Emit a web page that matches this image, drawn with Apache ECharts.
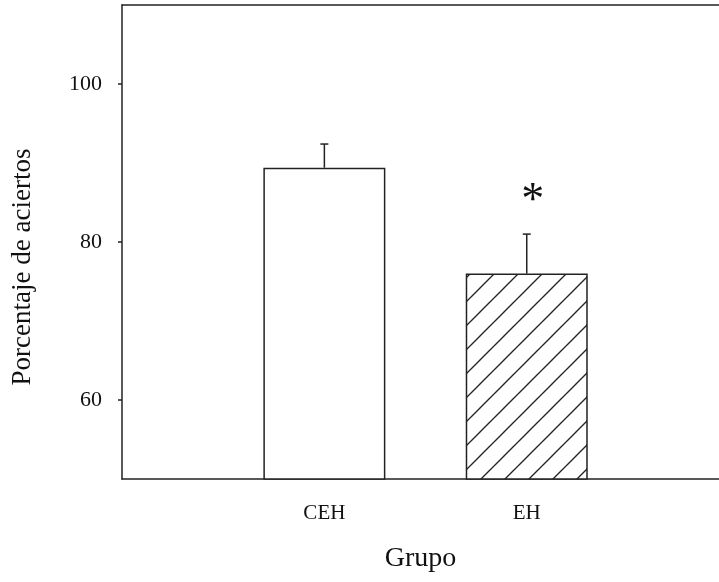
<!DOCTYPE html>
<html>
<head>
<meta charset="utf-8">
<script src="https://cdn.jsdelivr.net/npm/echarts@6/dist/echarts.min.js"></script>
<style>
html,body{margin:0;padding:0;background:#fff;}
#chart{width:719px;height:582px;}
</style>
</head>
<body>
<div id="chart"></div>
<script>
const categories = ['CEH', 'EH'];
const xPositions = [1, 2];
const means = [89.4, 76.0];
const upperErr = [92.4, 81.0];
const significance = ['', '*'];
const yTickValues = [60, 80, 100];

const ink = '#111';
const font = '"Liberation Serif", "DejaVu Serif", serif';

// hatch pattern
const pc = document.createElement('canvas');
pc.width = 24; pc.height = 24;
const g = pc.getContext('2d');
g.fillStyle = '#fff'; g.fillRect(0, 0, 24, 24);
g.strokeStyle = '#222'; g.lineWidth = 1.3;
[-24, 0, 24].forEach(o => {
  g.beginPath(); g.moveTo(o - 2, 26); g.lineTo(o + 26, -2); g.stroke();
});

const barData = xPositions.map((x, i) => ({
  value: [x, means[i]],
  itemStyle: { color: i === 0 ? '#fff' : { image: pc, repeat: 'repeat' } }
}));
const errData = xPositions.map((x, i) => [x, upperErr[i], means[i], significance[i]]);

const axisLineStyle = { color: '#222', width: 1.5 };

const chart = echarts.init(document.getElementById('chart'), null, { renderer: 'canvas' });
chart.setOption({
  animation: false,
  backgroundColor: '#fff',
  grid: { left: 122, right: 0, top: 5, bottom: 103 },
  xAxis: [{
    type: 'value', min: 0, max: 2.95,
    name: 'Grupo', nameLocation: 'middle', nameGap: 66,
    nameTextStyle: { fontFamily: font, fontSize: 28, color: ink },
    axisLine: { show: true, lineStyle: axisLineStyle },
    axisTick: { show: false },
    splitLine: { show: false },
    axisLabel: {
      customValues: xPositions,
      formatter: v => categories[xPositions.indexOf(v)] || '',
      fontFamily: font, fontSize: 21, color: ink, margin: 24
    }
  }, {
    type: 'value', position: 'top', min: 0, max: 2.95,
    axisLine: { show: true, lineStyle: axisLineStyle },
    axisTick: { show: false }, axisLabel: { show: false }, splitLine: { show: false }
  }],
  yAxis: {
    type: 'value', min: 50, max: 110, interval: 10,
    name: 'Porcentaje de aciertos', nameLocation: 'middle', nameGap: 86, nameRotate: 90,
    nameTextStyle: { fontFamily: font, fontSize: 27, color: ink, padding: [0, 50, 0, 0] },
    axisLine: { show: true, lineStyle: axisLineStyle },
    axisTick: { show: true, inside: false, length: 4, customValues: yTickValues, lineStyle: axisLineStyle },
    splitLine: { show: false },
    axisLabel: { customValues: yTickValues, fontFamily: font, fontSize: 22, color: ink, margin: 20 }
  },
  series: [
    {
      type: 'bar', data: barData, barWidth: 122,
      itemStyle: { borderColor: '#222', borderWidth: 1.5 }
    },
    {
      type: 'custom', z: 5, data: errData,
      renderItem: (params, api) => {
        const x = api.value(0);
        const top = api.coord([x, api.value(1)]);
        const base = api.coord([x, api.value(2)]);
        const sig = significance[params.dataIndex];
        const style = { stroke: '#222', lineWidth: 1.5 };
        const children = [
          { type: 'line', shape: { x1: base[0], y1: base[1], x2: top[0], y2: top[1] }, style },
          { type: 'line', shape: { x1: top[0] - 4, y1: top[1], x2: top[0] + 4, y2: top[1] }, style }
        ];
        if (sig) {
          children.push({ type: 'text', style: { text: sig, x: top[0] + 6, y: top[1] - 32, align: 'center', verticalAlign: 'middle', font: '46px ' + font, fill: ink } });
        }
        return { type: 'group', children };
      }
    }
  ]
});
</script>
</body>
</html>
